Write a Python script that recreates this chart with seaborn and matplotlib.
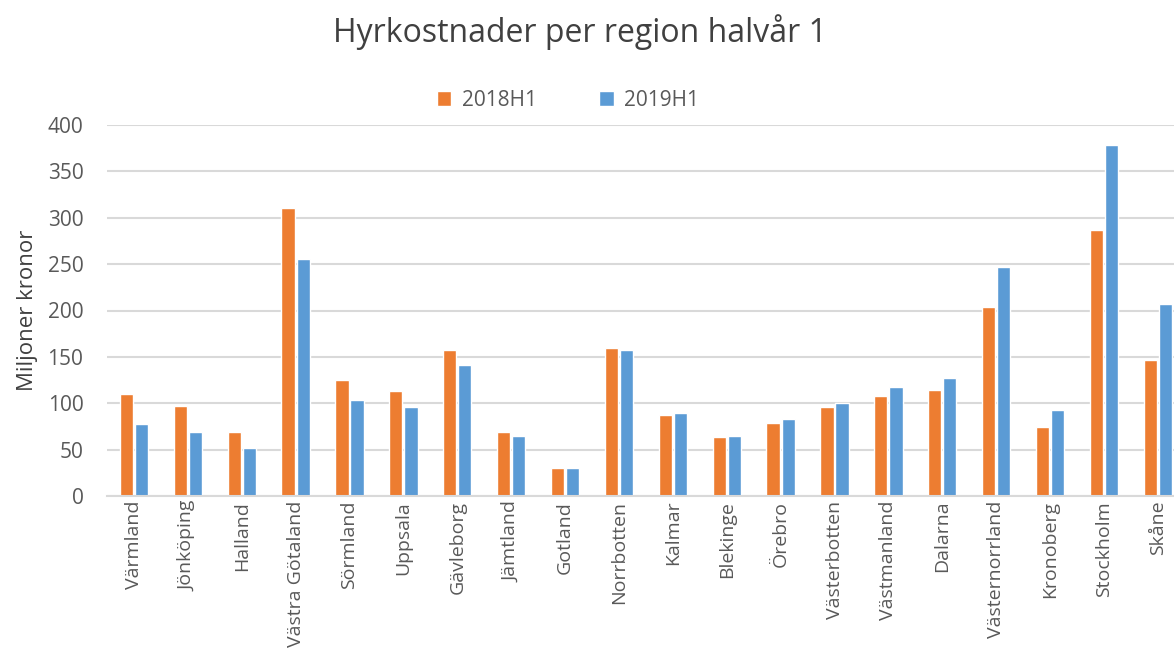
import pandas as pd
import matplotlib.pyplot as plt
import seaborn as sns

# Values (miljoner kronor)
regions = ["Värmland", "Jönköping", "Halland", "Västra Götaland", "Sörmland",
           "Uppsala", "Gävleborg", "Jämtland", "Gotland", "Norrbotten",
           "Kalmar", "Blekinge", "Örebro", "Västerbotten", "Västmanland",
           "Dalarna", "Västernorrland", "Kronoberg", "Stockholm", "Skåne"]
h1_2018 = [110, 97, 69, 311, 125, 113, 157, 69, 30, 160,
           87, 64, 79, 96, 108, 114, 204, 74, 287, 147]
h1_2019 = [78, 69, 52, 255, 104, 96, 141, 65, 30, 157,
           89, 65, 83, 100, 118, 127, 247, 93, 378, 207]
series = ["2018H1", "2019H1"]

ORANGE = "#ED7D31"
BLUE = "#5B9BD5"
GREY_TEXT = "#595959"
GRID = "#D9D9D9"

df = pd.DataFrame({
    "region": regions * 2,
    "value": h1_2018 + h1_2019,
    "series": [series[0]] * len(regions) + [series[1]] * len(regions),
})

sns.set_theme(style="white")
plt.rcParams['font.family'] = ['Open Sans', 'DejaVu Sans']

fig = plt.figure(figsize=(11.74, 6.59), dpi=100)
ax = fig.add_axes([107 / 1174, 163 / 659, (1174 - 107) / 1174, 371 / 659])

sns.barplot(data=df, x="region", y="value", hue="series", order=regions,
            palette={series[0]: ORANGE, series[1]: BLUE}, saturation=1,
            width=0.56, gap=0.12, ax=ax, legend=True)

ax.set_ylim(0, 400)
ax.set_xlim(-0.5, 19.3)
ax.set_yticks(range(0, 401, 50))
ax.yaxis.grid(True, color=GRID, linewidth=1.5)
ax.set_axisbelow(True)
for side in ["top", "right", "left"]:
    ax.spines[side].set_visible(False)
ax.spines["bottom"].set_color(GRID)
ax.spines["bottom"].set_linewidth(1.5)
ax.tick_params(axis="x", length=0, colors=GREY_TEXT, labelsize=14)
ax.tick_params(axis="y", length=0, colors=GREY_TEXT, labelsize=15, pad=17)
plt.setp(ax.get_xticklabels(), rotation=90)
ax.set_xlabel("")
ax.set_ylabel("Miljoner kronor", fontsize=16, color="#404040", labelpad=7)

ax.legend(loc="upper center", bbox_to_anchor=((568 - 107) / (1174 - 107), 1.145),
          ncol=2, frameon=False, fontsize=15, handlelength=0.7, handleheight=0.7,
          handletextpad=0.5, columnspacing=3.0, labelcolor=GREY_TEXT)

fig.suptitle("Hyrkostnader per region halvår 1", x=580 / 1174, y=1 - 32 / 659,
             va="center", fontsize=23, color="#404040")

plt.savefig("out.png", dpi=100)
plt.close(fig)
